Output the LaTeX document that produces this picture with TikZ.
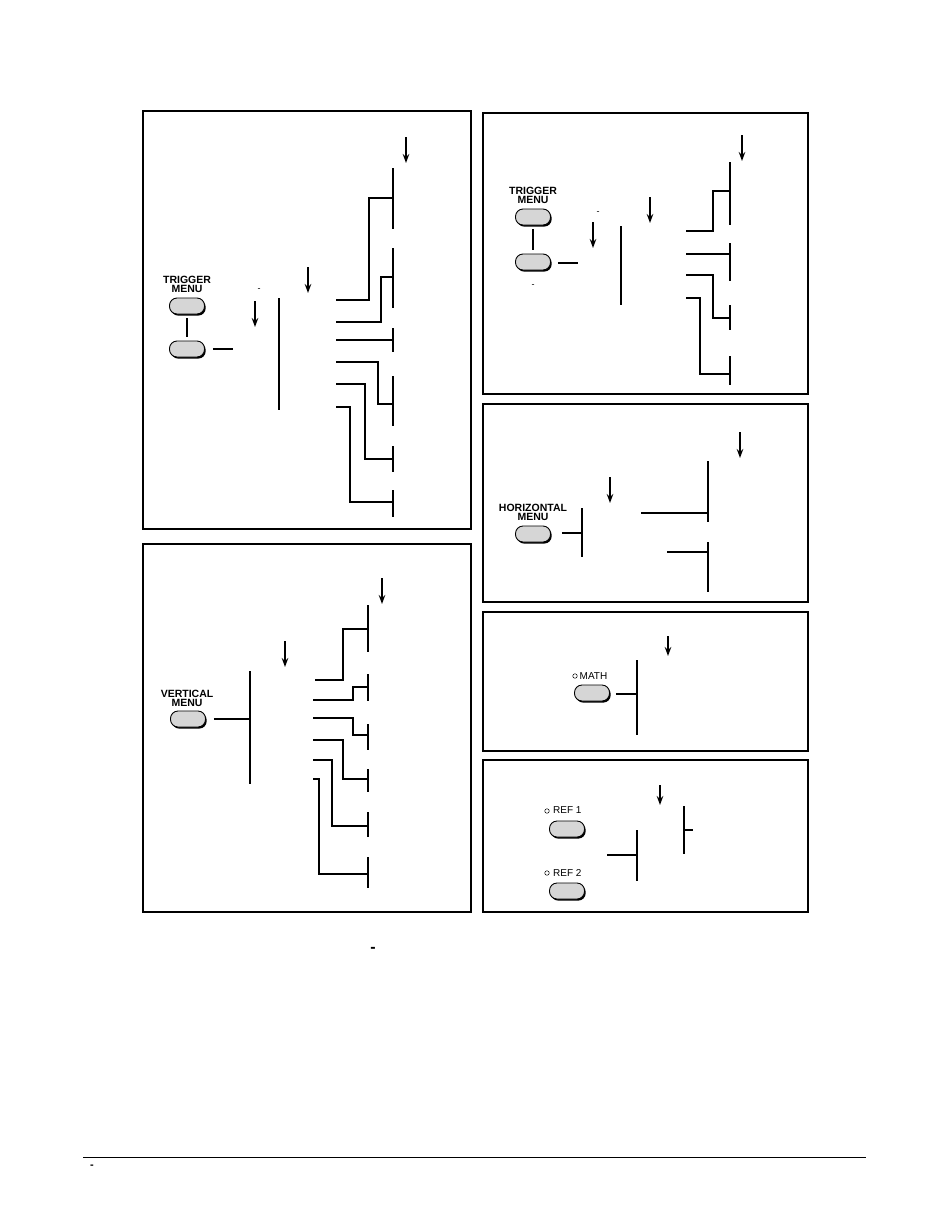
\documentclass[tikz,border=0pt]{standalone}
\usepackage{fontspec}
\setmainfont{Liberation Sans}
\usetikzlibrary{arrows.meta,shadows}
\definecolor{btngray}{RGB}{214,214,214}
\begin{document}
\begin{tikzpicture}[x=1pt,y=-1pt,
  panel/.style={draw, line width=1.2pt},
  wire/.style={line width=1.25pt},
  arr/.style={line width=1.4pt,-{Stealth[length=9pt,width=6.5pt]}},
  btn/.style={draw, line width=0.9pt, fill=btngray, rounded corners=7.5pt,
    minimum width=35pt, minimum height=16pt, inner sep=0pt,
    drop shadow={shadow xshift=1.2pt, shadow yshift=-1.6pt, fill=black, opacity=1}},
  lbl/.style={font=\fontsize{10.5}{9}\selectfont\bfseries, align=center, inner sep=0pt},
  rlbl/.style={font=\fontsize{10}{10}\selectfont, inner sep=0pt, anchor=west},
  led/.style={draw, circle, line width=0.5pt, minimum size=4.5pt, inner sep=0pt},
  tick/.style={font=\fontsize{9}{9}\selectfont, inner sep=0pt},
]
\useasboundingbox (0,0) rectangle (950,1229);

% ================= Panel 1: trigger menu (left) =================
\draw[panel] (143,111) rectangle (471,529);
\node[lbl] (tm1) at (187,284) {TRIGGER\\MENU};
\node[btn] (b1a) at (187,306) {};
\node[btn] (b1b) at (187,349) {};
\draw[wire, shorten <=4pt, shorten >=4pt] (b1a.south) -- (b1b.north);
\coordinate (p1l) at (233,349);
\draw[wire] ([xshift=8pt]b1b.east) -- (p1l);
\node[tick] (p1d) at (259,290) {-};
\coordinate (p1a1t) at (255,301); \coordinate (p1a1b) at (255,327);
\draw[arr] (p1a1t) -- (p1a1b);
\coordinate (p1c2t) at (279,298); \coordinate (p1c2b) at (279,410);
\draw[wire] (p1c2t) -- (p1c2b);
\coordinate (p1a2t) at (308,267); \coordinate (p1a2b) at (308,293);
\draw[arr] (p1a2t) -- (p1a2b);
\coordinate (p1a3t) at (406,137); \coordinate (p1a3b) at (406,163);
\draw[arr] (p1a3t) -- (p1a3b);
% column 3 bars
\foreach \n/\t/\b in {A/168/229, B/248/308, C/328/352, D/376/426, E/446/472, F/490/517}{
  \coordinate (p1\n t) at (393,\t); \coordinate (p1\n b) at (393,\b);
  \draw[wire] (p1\n t) -- (p1\n b);
}
\coordinate (p1A) at (393,198); \coordinate (p1B) at (393,277);
\coordinate (p1C) at (393,340); \coordinate (p1D) at (393,404);
\coordinate (p1E) at (393,459); \coordinate (p1F) at (393,502);
\coordinate (p1s1) at (336,300); \coordinate (p1s2) at (336,322);
\coordinate (p1s3) at (336,340); \coordinate (p1s4) at (336,362);
\coordinate (p1s5) at (336,384); \coordinate (p1s6) at (336,407);
\draw[wire] (p1s1) -- ++(33,0) |- (p1A);
\draw[wire] (p1s2) -- ++(45,0) |- (p1B);
\draw[wire] (p1s3) -- (p1C);
\draw[wire] (p1s4) -- ++(42,0) |- (p1D);
\draw[wire] (p1s5) -- ++(29,0) |- (p1E);
\draw[wire] (p1s6) -- ++(14,0) |- (p1F);

% ================= Panel 2: vertical menu =================
\draw[panel] (143,544) rectangle (471,912);
\node[lbl] (vm) at (187,698) {VERTICAL\\MENU};
\node[btn] (b2) at (188,719) {};
\coordinate (p2c2t) at (250,671); \coordinate (p2c2b) at (250,784);
\coordinate (p2c2m) at (250,719);
\draw[wire] (p2c2t) -- (p2c2b);
\draw[wire] ([xshift=8pt]b2.east) -- (p2c2m);
\coordinate (p2a2t) at (285,641); \coordinate (p2a2b) at (285,667);
\draw[arr] (p2a2t) -- (p2a2b);
\coordinate (p2a3t) at (382,578); \coordinate (p2a3b) at (382,604);
\draw[arr] (p2a3t) -- (p2a3b);
\foreach \n/\t/\b in {A/605/652, B/674/701, C/724/750, D/769/792, E/812/837, F/857/888}{
  \coordinate (p2\n t) at (368,\t); \coordinate (p2\n b) at (368,\b);
  \draw[wire] (p2\n t) -- (p2\n b);
}
\coordinate (p2A) at (368,629); \coordinate (p2B) at (368,687);
\coordinate (p2C) at (368,735); \coordinate (p2D) at (368,779);
\coordinate (p2E) at (368,826); \coordinate (p2F) at (368,874);
\coordinate (p2s1) at (315,680); \coordinate (p2s2) at (313,700);
\coordinate (p2s3) at (313,718); \coordinate (p2s4) at (313,740);
\coordinate (p2s5) at (313,760); \coordinate (p2s6) at (313,779);
\draw[wire] (p2s1) -- ++(28,0) |- (p2A);
\draw[wire] (p2s2) -- ++(40,0) |- (p2B);
\draw[wire] (p2s3) -- ++(40,0) |- (p2C);
\draw[wire] (p2s4) -- ++(30,0) |- (p2D);
\draw[wire] (p2s5) -- ++(19,0) |- (p2E);
\draw[wire] (p2s6) -- ++(6,0) |- (p2F);

% ================= Panel 3: trigger menu (right) =================
\draw[panel] (483,113) rectangle (808,394);
\node[lbl] (tm3) at (533,195) {TRIGGER\\MENU};
\node[btn] (b3a) at (533,217) {};
\node[btn] (b3b) at (533,262) {};
\draw[wire, shorten <=4pt, shorten >=4pt] (b3a.south) -- (b3b.north);
\coordinate (p3l) at (578,263);
\draw[wire] ([xshift=7pt,yshift=-1pt]b3b.east) -- (p3l);
\node[tick] (p3d1) at (598,213) {-};
\node[tick] (p3d2) at (533,286) {-};
\coordinate (p3a1t) at (593,222); \coordinate (p3a1b) at (593,248);
\draw[arr] (p3a1t) -- (p3a1b);
\coordinate (p3c2t) at (621,226); \coordinate (p3c2b) at (621,305);
\draw[wire] (p3c2t) -- (p3c2b);
\coordinate (p3a2t) at (650,197); \coordinate (p3a2b) at (650,223);
\draw[arr] (p3a2t) -- (p3a2b);
\coordinate (p3a3t) at (742,135); \coordinate (p3a3b) at (742,161);
\draw[arr] (p3a3t) -- (p3a3b);
\foreach \n/\t/\b in {A/162/225, B/243/281, C/305/330, D/356/385}{
  \coordinate (p3\n t) at (730,\t); \coordinate (p3\n b) at (730,\b);
  \draw[wire] (p3\n t) -- (p3\n b);
}
\coordinate (p3A) at (730,191); \coordinate (p3B) at (730,254);
\coordinate (p3C) at (730,318); \coordinate (p3D) at (730,374);
\coordinate (p3s1) at (686,231); \coordinate (p3s2) at (686,254);
\coordinate (p3s3) at (686,275); \coordinate (p3s4) at (686,298);
\draw[wire] (p3s1) -- ++(27,0) |- (p3A);
\draw[wire] (p3s2) -- (p3B);
\draw[wire] (p3s3) -- ++(27,0) |- (p3C);
\draw[wire] (p3s4) -- ++(14,0) |- (p3D);

% ================= Panel 4: horizontal menu =================
\draw[panel] (483,404) rectangle (808,602);
\node[lbl] (hm) at (533,512) {HORIZONTAL\\MENU};
\node[btn] (b4) at (533,534) {};
\coordinate (p4c2t) at (582,508); \coordinate (p4c2b) at (582,557);
\coordinate (p4c2m) at (582,533);
\draw[wire] (p4c2t) -- (p4c2b);
\draw[wire] ([xshift=11pt,yshift=1pt]b4.east) -- (p4c2m);
\coordinate (p4a2t) at (610,477); \coordinate (p4a2b) at (610,503);
\draw[arr] (p4a2t) -- (p4a2b);
\coordinate (p4a3t) at (740,432); \coordinate (p4a3b) at (740,458);
\draw[arr] (p4a3t) -- (p4a3b);
\coordinate (p4At) at (708,461); \coordinate (p4Ab) at (708,522);
\coordinate (p4Bt) at (708,542); \coordinate (p4Bb) at (708,592);
\draw[wire] (p4At) -- (p4Ab);
\draw[wire] (p4Bt) -- (p4Bb);
\coordinate (p4A) at (708,513); \coordinate (p4B) at (708,552);
\coordinate (p4s1) at (641,513); \coordinate (p4s2) at (667,552);
\draw[wire] (p4s1) -- (p4A);
\draw[wire] (p4s2) -- (p4B);

% ================= Panel 5: math =================
\draw[panel] (483,612) rectangle (808,751);
\node[led] (l5) at (575,676) {};
\node[rlbl] (math) at (579.5,676) {MATH};
\node[btn] (b5) at (592,693) {};
\coordinate (p5c2t) at (637,660); \coordinate (p5c2b) at (637,735);
\coordinate (p5c2m) at (637,694);
\draw[wire] (p5c2t) -- (p5c2b);
\draw[wire] ([xshift=6pt,yshift=-1pt]b5.east) -- (p5c2m);
\coordinate (p5at) at (668,636); \coordinate (p5ab) at (668,656);
\draw[arr] (p5at) -- (p5ab);

% ================= Panel 6: references =================
\draw[panel] (483,760) rectangle (808,912);
\node[led] (l6a) at (547,811) {};
\node[rlbl] (ref1) at (553,810.5) {REF 1};
\node[btn] (b6a) at (567,829) {};
\node[led] (l6b) at (547,873) {};
\node[rlbl] (ref2) at (553,872.5) {REF 2};
\node[btn] (b6b) at (567,891) {};
\coordinate (p6lt) at (637,830); \coordinate (p6lb) at (637,881);
\draw[wire] (p6lt) -- (p6lb);
\coordinate (p6ls) at (607,855); \coordinate (p6lm) at (637,855);
\draw[wire] (p6ls) -- (p6lm);
\coordinate (p6rt) at (684,806); \coordinate (p6rb) at (684,854);
\draw[wire] (p6rt) -- (p6rb);
\coordinate (p6rm) at (684,830); \coordinate (p6re) at (693,830);
\draw[wire] (p6rm) -- (p6re);
\coordinate (p6at) at (660,785); \coordinate (p6ab) at (660,805);
\draw[arr] (p6at) -- (p6ab);

% ================= page marks =================
\node[font=\fontsize{16}{16}\selectfont\bfseries, inner sep=0pt] (cap) at (373,950) {-};
\coordinate (fl) at (83,1157); \coordinate (fr) at (866,1157);
\draw[line width=1pt] (fl) -- (fr);
\node[font=\fontsize{11}{11}\selectfont\bfseries, inner sep=0pt] (pg) at (92,1167) {-};
\end{tikzpicture}
\end{document}
